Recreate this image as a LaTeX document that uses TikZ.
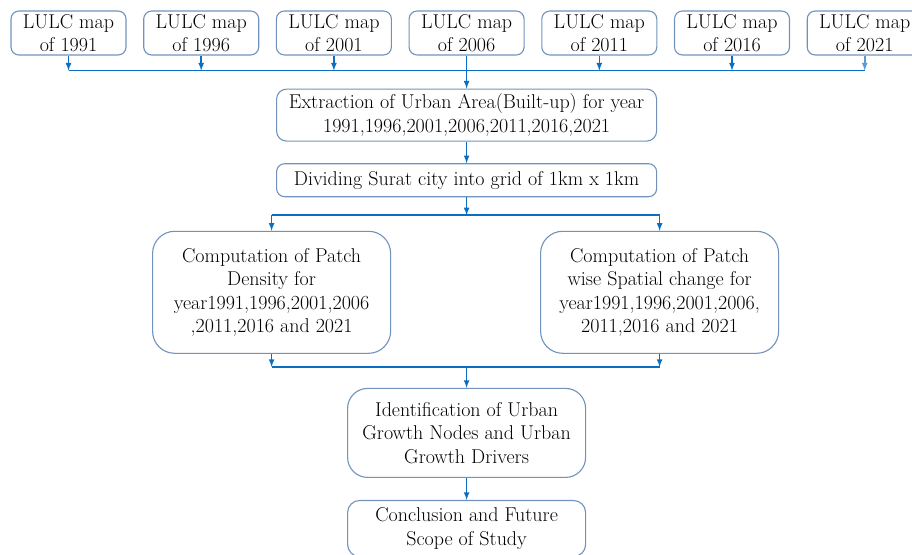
\documentclass[tikz,border=0pt]{standalone}
\usetikzlibrary{positioning}
\definecolor{boxblue}{HTML}{7192BB}
\definecolor{arrowblue}{HTML}{0A6FC2}
\definecolor{paleblue}{HTML}{5B9BD5}

\tikzstyle{block} = [rectangle, draw=boxblue, line width=1.1pt, align=center,
inner sep=0pt, font=\fontsize{20}{23.5}\selectfont]
\tikzstyle{mapbox} = [block, minimum width=115pt, minimum height=44pt, rounded corners=8pt]
\tikzstyle{line} = [draw=arrowblue, line width=1.6pt, -latex]
\tikzstyle{bus} = [draw=arrowblue, line width=1.6pt]

\begin{document}
\begin{tikzpicture}[x=1pt, y=1pt]
		\useasboundingbox (0,0) rectangle (912,-554);
		\foreach \yr [count=\i] in {1991,1996,2001,2006,2011,2016,2021}
			\node [mapbox] (Map\yr) at ({68.5+(\i-1)*132.7},-33) {LULC map\\of \yr};
		\node [block, below=33pt of Map2006, minimum width=380pt, minimum height=52pt, rounded corners=10pt] (Extraction)
			{Extraction of Urban Area(Built-up) for year\\1991,1996,2001,2006,2011,2016,2021};
		\node [block, below=21.5pt of Extraction, minimum width=380pt, minimum height=33pt, rounded corners=8pt] (Grid)
			{Dividing Surat city into grid of 1km x 1km};
		\node [block, below=33.5pt of Grid, xshift=-195pt, minimum width=238pt, minimum height=122pt, rounded corners=22pt] (Density)
			{Computation of Patch\\Density for\\year1991,1996,2001,2006\\,2011,2016 and 2021};
		\node [block, below=33.5pt of Grid, xshift=193pt, minimum width=238pt, minimum height=122pt, rounded corners=22pt] (Change)
			{Computation of Patch\\wise Spatial change for\\year1991,1996,2001,2006,\\2011,2016 and 2021};
		\coordinate (Join) at (Grid.south |- Density.south);
		\node [block, below=34pt of Join, minimum width=238pt, minimum height=89pt, rounded corners=20pt] (Identification)
			{Identification of Urban\\Growth Nodes and Urban\\Growth Drivers};
		\node [block, below=22pt of Identification, minimum width=238pt, minimum height=56pt, rounded corners=12pt] (Conclusion)
			{Conclusion and Future\\Scope of Study};
		
		% maps to the bus
		\coordinate [below=15pt of Map1991] (TopBus);
		\foreach \yr in {1991,1996,2001,2011,2016}
			\path [line] (Map\yr.south) -- (Map\yr.south |- TopBus);
		\path [line, draw=paleblue] (Map2021.south) -- (Map2021.south |- TopBus);
		\path [bus] (Map1991.south |- TopBus) -- (Map2021.south |- TopBus);
		\path [line] (Map2006.south) -- (Extraction.north);
		\path [line] (Extraction) -- (Grid);
		
		% split into the two computations
		\coordinate [below=18pt of Grid] (MidBus);
		\path [line] (Grid) -- (MidBus);
		\path [bus] (Density.north |- MidBus) -- (Change.north |- MidBus);
		\path [line] (Density.north |- MidBus) -- (Density.north);
		\path [line] (Change.north |- MidBus) -- (Change.north);
		
		% join again
		\coordinate [below=13pt of Join] (LowBus);
		\path [line] (Density.south) -- (Density.south |- LowBus);
		\path [line] (Change.south) -- (Change.south |- LowBus);
		\path [bus] (Density.south |- LowBus) -- (Change.south |- LowBus);
		\path [line] (LowBus) -- (Identification);
		\path [line] (Identification) -- (Conclusion);
	\end{tikzpicture}
\end{document}
